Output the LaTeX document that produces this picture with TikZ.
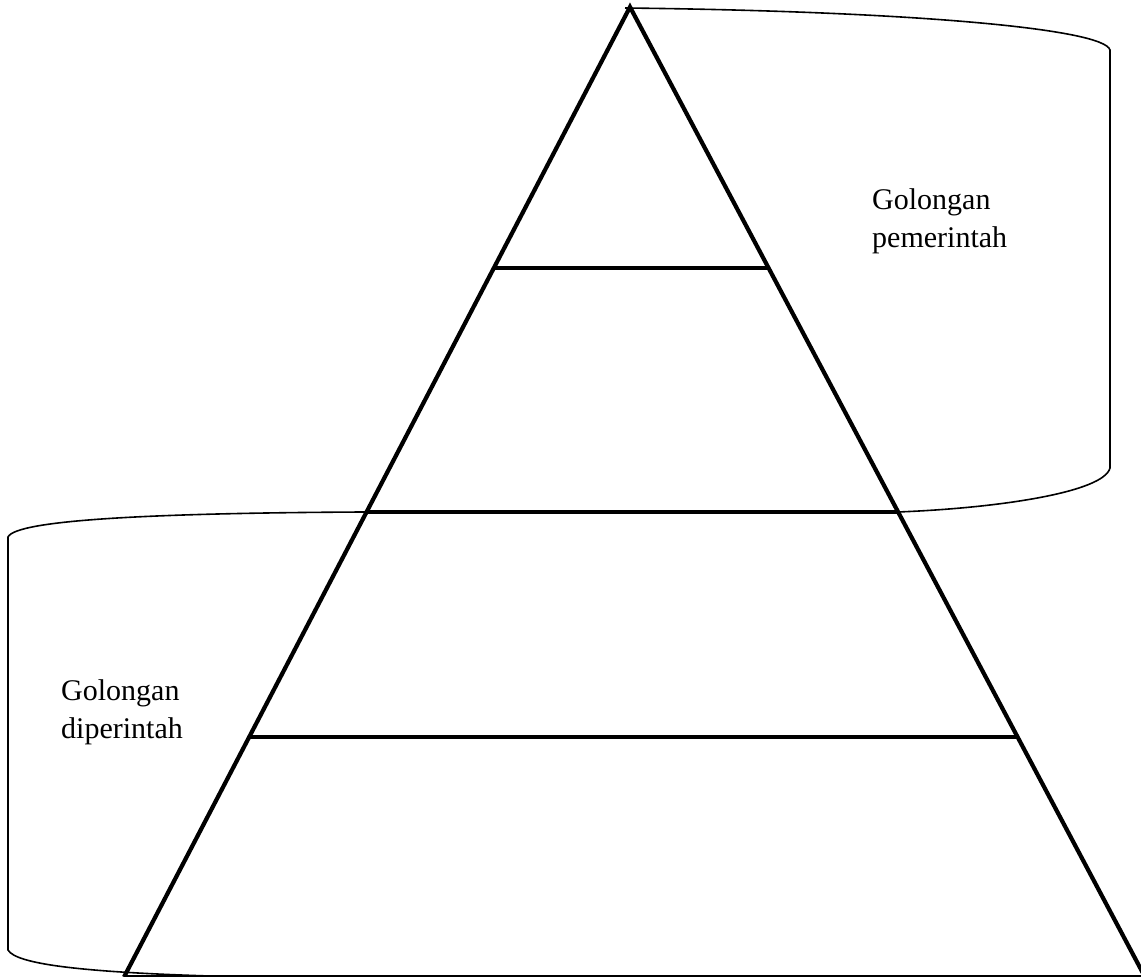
\documentclass[tikz,border=0pt]{standalone}
\usepackage{fontspec}
\setmainfont{Liberation Serif}
\usetikzlibrary{calc}

\begin{document}
\begin{tikzpicture}[x=1pt,y=-1pt,
  pyr/.style={line width=4.2pt},
  bracket/.style={line width=1.6pt},
  golongan/.style={font=\fontsize{30}{38}\selectfont,align=left,anchor=west,inner sep=0pt}]
  \useasboundingbox (0,0) rectangle (1141,977);
  %corners of the pyramid
  \coordinate (apex) at (630,7);
  \coordinate (bl) at (124,977);
  \coordinate (br) at (1145,977);
  %ends of the levels on both sides
  \foreach \n/\t in {one/0.2691,two/0.5206,three/0.7526} {
    \coordinate (l\n) at ($(apex)!\t!(bl)$);
    \coordinate (r\n) at ($(apex)!\t!(br)$);
  }
  %draw pyramid
  \draw [pyr] (bl) -- (apex) -- (br);
  \draw [pyr] (bl) -- (br);
  \foreach \n in {one,two,three}
    \draw [pyr] (l\n) -- (r\n);
  %upper bracket
  \coordinate (rtop) at (625,8);
  \draw [bracket] (rtop) .. controls (900,11) and (1104,28) .. (1110,50)
    -- (1110,468) .. controls (1104,492) and (1000,508) .. (rtwo);
  %lower bracket
  \coordinate (lend) at (210,976);
  \draw [bracket] (ltwo) .. controls (150,513) and (16,520) .. (8,537)
    -- (8,950) .. controls (16,964) and (80,972) .. (lend);
  %labels
  \node [golongan] (gov) at (872,221) {Golongan\\pemerintah};
  \node [golongan] (ruled) at (61,712) {Golongan\\diperintah};
\end{tikzpicture}
\end{document}
